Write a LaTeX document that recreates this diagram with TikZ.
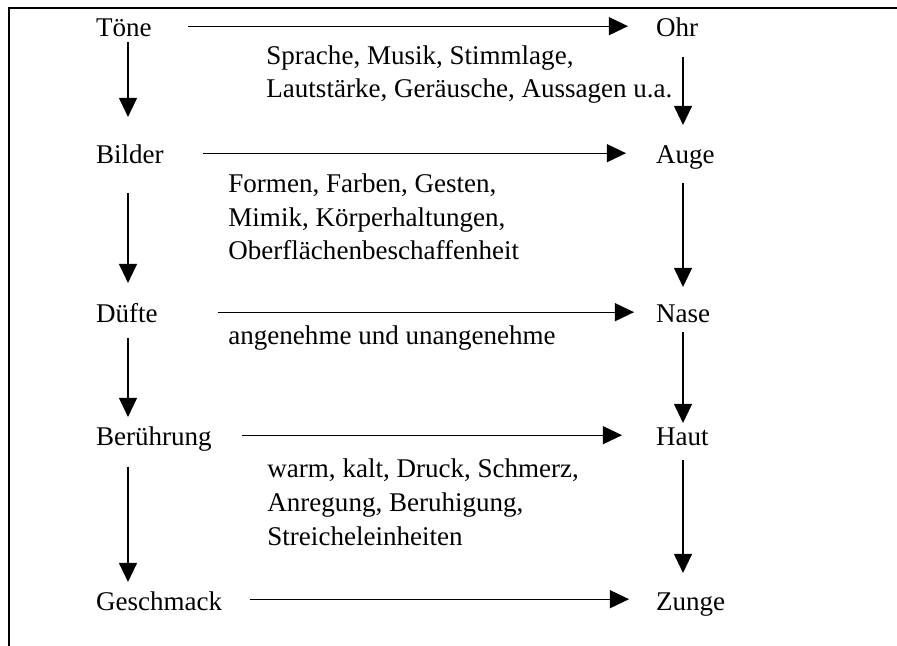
\documentclass[tikz,border=0pt]{standalone}
\usepackage{fontspec}
\setmainfont{Liberation Serif}
\usetikzlibrary{arrows.meta}
\newdimen\px \px=0.444pt

\begin{document}
\begin{tikzpicture}[x=0.444pt, y=-0.444pt, font=\fontsize{12pt}{15pt}\selectfont,
    sense/.style={inner sep=0pt, outer sep=0pt, anchor=base west, text height=9.6pt, text depth=0pt},
    info/.style={inner sep=0pt, anchor=base west, align=left},
    arr/.style={line width=0.6pt, -{Triangle[length=8.5pt, width=8pt]}}]
    \useasboundingbox (0,0) rectangle (897,646);
    % frame
    \draw[line width=1.1pt] (9,646) -- (9,8) -- (897,8);
    % stimuli and organs
    \node[sense] (toene)      at (96,37)  {Töne};
    \node[sense] (ohr)        at (656,37) {Ohr};
    \node[sense] (bilder)     at (96,164) {Bilder};
    \node[sense] (auge)       at (656,164) {Auge};
    \node[sense] (duefte)     at (96,323) {Düfte};
    \node[sense] (nase)       at (656,323) {Nase};
    \node[sense] (beruehrung) at (96,446) {Berührung};
    \node[sense] (haut)       at (656,446) {Haut};
    \node[sense] (geschmack)  at (96,610) {Geschmack};
    \node[sense] (zunge)      at (656,610) {Zunge};
    % details (anchored at the last line)
    \node[info] (hoeren)  at (266,98)  {Sprache, Musik, Stimmlage,\\Lautstärke, Geräusche, Aussagen u.a.};
    \node[info] (sehen)   at (228,260) {Formen, Farben, Gesten,\\Mimik, Körperhaltungen,\\Oberflächenbeschaffenheit};
    \node[info] (riechen) at (228,345) {angenehme und unangenehme};
    \node[info] (fuehlen) at (267,545) {warm, kalt, Druck, Schmerz,\\Anregung, Beruhigung,\\Streicheleinheiten};
    % stimulus -> organ
    \draw[arr, shorten <=36.5\px, shorten >=28\px] (toene) -- (ohr);
    \draw[arr, shorten <=39.5\px, shorten >=30\px] (bilder) -- (auge);
    \draw[arr, shorten <=60.5\px, shorten >=22\px] (duefte) -- (nase);
    \draw[arr, shorten <=30.5\px, shorten >=34\px] (beruehrung) -- (haut);
    \draw[arr, shorten <=28\px, shorten >=27\px] (geschmack) -- (zunge);
    % left column
    \draw[arr, shorten <=5\px, shorten >=25.4\px] ([xshift=32\px]toene.south west) -- ([xshift=32\px]bilder.north west);
    \draw[arr, shorten <=29\px, shorten >=18.4\px] ([xshift=32\px]bilder.south west) -- ([xshift=32\px]duefte.north west);
    \draw[arr, shorten <=15\px, shorten >=7.4\px] ([xshift=32\px]duefte.south west) -- ([xshift=32\px]beruehrung.north west);
    \draw[arr, shorten <=21\px, shorten >=6.4\px] ([xshift=32\px]beruehrung.south west) -- ([xshift=32\px]geschmack.north west);
    % right column
    \draw[arr, shorten <=20\px, shorten >=17.4\px] ([xshift=27\px]ohr.south west) -- ([xshift=27\px]auge.north west);
    \draw[arr, shorten <=19\px, shorten >=14.4\px] ([xshift=27\px]auge.south west) -- ([xshift=27\px]nase.north west);
    \draw[arr, shorten <=9\px, shorten >=1.4\px] ([xshift=27\px]nase.south west) -- ([xshift=27\px]haut.north west);
    \draw[arr, shorten <=14\px, shorten >=15.4\px] ([xshift=27\px]haut.south west) -- ([xshift=27\px]zunge.north west);
\end{tikzpicture}
\end{document}
